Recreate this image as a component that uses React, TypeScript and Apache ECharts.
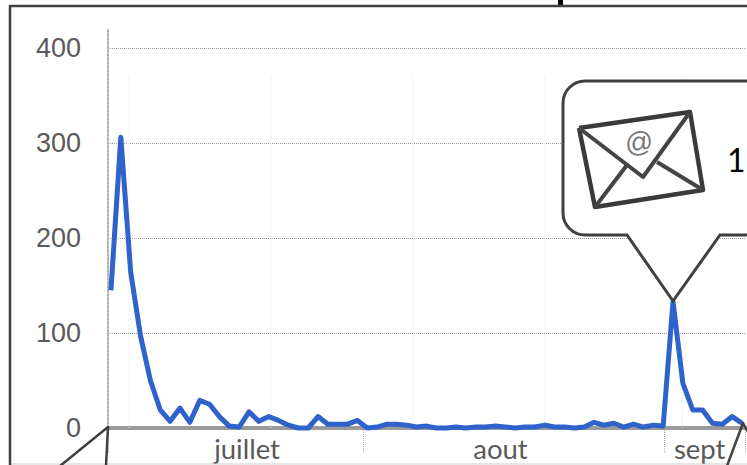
import React, { useEffect, useRef } from "react";
import * as echarts from "echarts";

const traffic = [145, 306, 164, 97, 50, 19, 7, 21, 6, 29, 25, 12, 2, 1, 17, 7, 12, 8, 3, 0, 0, 12, 4, 4, 4, 8, 0, 1, 4, 4, 3, 1, 2, 0, 0, 1, 0, 1, 1, 2, 1, 0, 1, 1, 3, 1, 1, 0, 1, 6, 3, 5, 1, 4, 1, 3, 2, 133, 47, 19, 19, 5, 4, 12, 5];
const monthNames = ["juillet", "aout", "sept"];
const monthCentres = [13.8, 39.5, 59.7];
const monthEdges = [-0.3, 25.6, 56.1, 64.3];
const faintWeeks = [1.83, 16.2, 30.6, 44.0, 57.9];
const yTickStep = 100;

const BUBBLE = "M585 81H765V235H720L673 301L627 235H585A22 22 0 0 1 563 213V103A22 22 0 0 1 585 81Z";
echarts.graphic.registerShape("bubble", echarts.graphic.extendPath(BUBBLE, {}));

const DARK = "#404040";
const stroke = (lineWidth: number, color = DARK) => ({ fill: "none", stroke: color, lineWidth, lineJoin: "round" });
const seg = (points: number[][], lineWidth = 2.5, color = DARK, z = 10) => ({
  type: "polyline", z, silent: true, shape: { points }, style: stroke(lineWidth, color),
});

export default function App() {
  const ref = useRef<HTMLDivElement>(null);
  useEffect(() => {
    document.body.style.margin = "0";
    const chart = echarts.init(ref.current!, null, { renderer: "svg" });
    chart.setOption({
      animation: false,
      backgroundColor: "#ffffff",
      grid: { left: 108, right: 2, top: 28, bottom: 37 },
      xAxis: {
        type: "value",
        min: monthEdges[0],
        max: monthEdges[monthEdges.length - 1],
        splitLine: { show: false },
        axisLine: { show: true, lineStyle: { color: "#9a9a9a", width: 4 } },
        axisTick: { show: true, customValues: monthEdges, length: 25, lineStyle: { color: "#b0b0b0", type: "dotted", width: 1 } },
        axisLabel: {
          customValues: monthCentres,
          formatter: (v: number) => monthNames[monthCentres.indexOf(v)] ?? "",
          fontFamily: "Lato", fontSize: 27.5, color: "#595959", margin: 6,
        },
      },
      yAxis: {
        type: "value",
        min: 0,
        max: 421,
        interval: yTickStep,
        axisLine: { show: true, onZero: false, lineStyle: { color: "#b0b0b0", type: "dotted", width: 2 } },
        axisTick: { show: false },
        splitLine: { show: true, showMaxLine: false, lineStyle: { color: "#999999", type: "dotted", width: 1 } },
        axisLabel: { showMaxLabel: false, fontFamily: "Liberation Sans", fontSize: 27, color: "#5a5a5a", margin: 27 },
      },
      series: [
        {
          type: "line", z: 1, data: [], silent: true,
          markLine: {
            z: 1, silent: true, symbol: "none", animation: false, label: { show: false },
            lineStyle: { color: "#eef0f6", type: "dotted", width: 1.5 },
            data: faintWeeks.map((w) => [{ coord: [w, 370] }, { coord: [w, 0] }]),
          },
        },
        {
          type: "line", z: 6,
          data: traffic.map((v, i) => [i, v]),
          showSymbol: false, symbol: "none", smooth: false, clip: false,
          lineStyle: { color: "#2f63cb", width: 5, join: "round" },
        },
      ],
      graphic: [
        { type: "rect", z: 9, silent: true, shape: { x: 558, y: 0, width: 5, height: 6 }, style: { fill: "#000" } },
        { type: "polyline", z: 10, silent: true, shape: { points: [[10, 465], [10, 6], [750, 6]] }, style: stroke(2.5) },
        seg([[10, 464], [747, 464]], 1, "#cfcfcf", 8),
        { type: "bubble", z: 10, silent: true, style: { fill: "#fff", stroke: DARK, lineWidth: 3 } },
        seg([[579, 128], [690, 112], [703, 190], [595, 207], [579, 128]], 4.5, "#3a3a3a", 11),
        seg([[579, 128], [643, 177], [690, 112]], 4, "#444", 11),
        seg([[595, 207], [627, 165]], 4, "#444", 11),
        seg([[703, 190], [657, 162]], 4, "#444", 11),
        { type: "text", z: 11, silent: true, x: 639, y: 142, rotation: 0.14, style: { text: "@", font: "28px 'Liberation Sans'", fill: "#777", align: "center", verticalAlign: "middle" } },
        { type: "text", z: 11, silent: true, x: 727, y: 143, style: { text: "1", font: "32px 'Lato'", fill: "#000" } },
        seg([[60, 466], [108, 427], [106, 466]]),
        seg([[727, 466], [743, 423], [748, 432]]),
      ],
    });
    return () => chart.dispose();
  }, []);
  return <div ref={ref} style={{ width: 747, height: 465 }} />;
}
